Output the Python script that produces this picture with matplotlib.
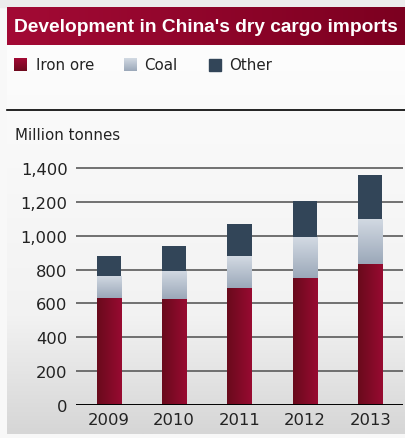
import numpy as np
import matplotlib
matplotlib.use('Agg')
import matplotlib.pyplot as plt
from matplotlib.colors import LinearSegmentedColormap

# data (million tonnes)
years = ['2009', '2010', '2011', '2012', '2013']
iron_ore = [633, 627, 693, 750, 831]
coal = [131, 166, 185, 241, 267]
other = [114, 149, 194, 216, 265]
y_ticks = [0, 200, 400, 600, 800, 1000, 1200, 1400]
y_tick_labels = ['0', '200', '400', '600', '800', '1,000', '1,200', '1,400']

plt.rcParams['font.family'] = ['DejaVu Sans']
txt = '#222222'

iron_cmap = LinearSegmentedColormap.from_list('iron', ['#690a1c', '#980b31'])
coal_cmap = LinearSegmentedColormap.from_list('coal', ['#9ba8b9', '#d3dae3'])
title_cmap = LinearSegmentedColormap.from_list('title', ['#a30a35', '#7c0020'])
panel_cmap = LinearSegmentedColormap.from_list(
    'panel', [(0, '#d6d6d6'), (0.3, '#f2f2f2'), (1, '#fdfdfd')])
other_col = '#324558'

fig = plt.figure(figsize=(4.06, 4.39), dpi=100)

# background layer in pixel coordinates
bg = fig.add_axes([0, 0, 1, 1])
bg.set_xlim(0, 406)
bg.set_ylim(439, 0)
bg.axis('off')
bg.add_patch(plt.Rectangle((0, 0), 406, 439, color='#f8f8f8', zorder=0))
bg.add_patch(plt.Rectangle((0, 0), 406, 8.3, color='#ececec', zorder=1))
ramp = np.linspace(0, 1, 200).reshape(-1, 1)
bg.imshow(ramp, cmap=panel_cmap, extent=[7, 406, 435, 45.7], aspect='auto',
          origin='lower', zorder=1)
bg.imshow(np.linspace(0, 1, 200).reshape(1, -1), cmap=title_cmap,
          extent=[7, 406, 45.7, 8.3], aspect='auto', zorder=2)
bg.text(14, 27.5, "Development in China's dry cargo imports", color='white',
        fontsize=13.8, fontweight='bold', va='center', ha='left',
        family=['Liberation Sans', 'DejaVu Sans'], zorder=3)
bg.plot([7, 406], [110.5, 110.5], color='black', lw=1.2, zorder=2)

# legend
bg.imshow(ramp, cmap=LinearSegmentedColormap.from_list('l1', ['#6e0a1e', '#a30a35']),
          extent=[14, 26.5, 72, 59.5], aspect='auto', origin='lower', zorder=3)
bg.imshow(ramp, cmap=coal_cmap, extent=[124, 136.5, 72, 59.5], aspect='auto',
          origin='lower', zorder=3)
bg.add_patch(plt.Rectangle((209, 59.5), 12.5, 12.5, color=other_col, zorder=3))
for x, lab in [(36, 'Iron ore'), (144, 'Coal'), (229, 'Other')]:
    bg.text(x, 66, lab, fontsize=10.8, color=txt, va='center', ha='left', zorder=3)
bg.text(15, 135.5, 'Million tonnes', fontsize=10.8, color=txt, va='center', ha='left')

# chart
ax = fig.add_axes([76 / 406, 0.07585, 327 / 406, 0.5462])
ax.patch.set_alpha(0)
x = np.arange(len(years))
w = 0.367
bottom_coal = np.array(iron_ore)
bottom_other = bottom_coal + np.array(coal)

b_iron = ax.bar(x, iron_ore, w, zorder=3)
b_coal = ax.bar(x, coal, w, bottom=bottom_coal, zorder=3)
ax.bar(x, other, w, bottom=bottom_other, color=other_col, zorder=3)

for bars, cmap, horiz in [(b_iron, iron_cmap, True), (b_coal, coal_cmap, False)]:
    for p in bars:
        px, py = p.get_x(), p.get_y()
        pw, ph = p.get_width(), p.get_height()
        grad = np.linspace(0, 1, 100).reshape(1, -1) if horiz else ramp
        im = ax.imshow(grad, cmap=cmap, extent=[px, px + pw, py, py + ph],
                       aspect='auto', origin='lower', zorder=3)
        im.set_clip_path(p)
        p.set_facecolor('none')

for t in y_ticks[1:]:
    ax.axhline(t, color='#5a5a5a', lw=1.2, zorder=1)
ax.axhline(0, color='black', lw=1.4, zorder=4)

ax.set_xlim(-0.5, 4.5)
ax.set_ylim(0, 1420)
ax.set_xticks(x)
ax.set_xticklabels(years)
ax.set_yticks(y_ticks)
ax.set_yticklabels(y_tick_labels)
ax.tick_params(axis='both', length=0, labelsize=11.8, colors=txt)
ax.tick_params(axis='y', pad=6)
ax.tick_params(axis='x', pad=5)
for s in ax.spines.values():
    s.set_visible(False)

fig.savefig('out.png', dpi=100)
